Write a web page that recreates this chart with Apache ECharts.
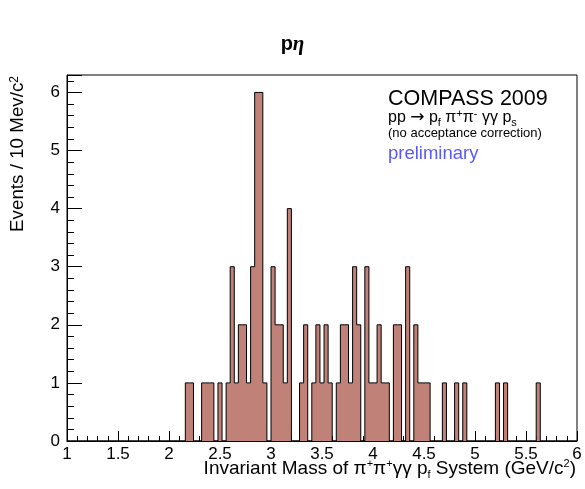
<!DOCTYPE html>
<html>
<head>
<meta charset="utf-8">
<script src="https://cdn.jsdelivr.net/npm/echarts@6/dist/echarts.min.js"></script>
<style>
  html, body { margin: 0; padding: 0; background: #fff; }
  #chart { width: 585px; height: 489px; }
</style>
</head>
<body>
<div id="chart"></div>
<script>
// histogram: 125 bins of 40 MeV from 1 to 6 GeV, only non-empty bins listed
const massMin = 1
const massMax = 6
const binWidth = 0.04
const massLow = [
  2.16, 2.20, 2.32, 2.36, 2.40, 2.48, 2.56, 2.60, 2.64, 2.68,
  2.72, 2.76, 2.80, 2.84, 2.88, 2.92, 3.00, 3.04, 3.08, 3.12,
  3.16, 3.28, 3.32, 3.40, 3.44, 3.48, 3.52, 3.56, 3.64, 3.68,
  3.72, 3.76, 3.80, 3.84, 3.92, 3.96, 4.00, 4.04, 4.08, 4.12,
  4.20, 4.24, 4.32, 4.40, 4.44, 4.48, 4.52, 4.68, 4.80, 4.88,
  5.20, 5.28, 5.60
]
const events = [
  1, 1, 1, 1, 1, 1, 1, 3, 1, 2,
  2, 1, 3, 6, 6, 1, 3, 2, 2, 1,
  4, 1, 2, 1, 2, 1, 2, 1, 1, 2,
  2, 1, 3, 2, 3, 1, 1, 2, 1, 1,
  2, 2, 3, 2, 1, 1, 1, 1, 1, 1,
  1, 1, 1
]

const nBins = Math.round((massMax - massMin) / binWidth)
const counts = new Array(nBins).fill(0)
massLow.forEach((m, i) => {
  counts[Math.round((m - massMin) / binWidth)] = events[i]
})
// step line through bin edges
const steps = counts.map((c, k) => [+(massMin + k * binWidth).toFixed(2), c])
steps.push([massMax, counts[nBins - 1]])

const font = 'Liberation Sans, Arial, sans-serif'
const sup = { fontSize: 11, verticalAlign: 'top', fontFamily: font, color: '#000' }
const sub = { fontSize: 11, verticalAlign: 'bottom', fontFamily: font, color: '#000' }
const arr = { fontSize: 17, fontFamily: 'DejaVu Sans, sans-serif', color: '#000' }

const chart = echarts.init(document.getElementById('chart'))
chart.setOption({
  animation: false,
  backgroundColor: '#fff',
  title: [
    {
      text: '{p|p}{eta|η}',
      left: 'center',
      top: 34,
      padding: 0,
      textStyle: {
        rich: {
          p: { fontFamily: font, fontWeight: 'bold', fontSize: 20, color: '#000' },
          eta: { fontFamily: 'Liberation Serif, serif', fontWeight: 'bold', fontStyle: 'italic', fontSize: 21, color: '#000' }
        }
      }
    },
    {
      text: 'COMPASS 2009',
      left: 388,
      top: 88,
      padding: 0,
      textStyle: { fontFamily: font, fontWeight: 'normal', fontSize: 21.5, color: '#000' }
    },
    {
      text: 'pp {arr|→} p{sub|f} π{sup|+}π{sup|-} γγ p{sub|s}',
      left: 388,
      top: 108,
      padding: 0,
      textStyle: { fontFamily: font, fontWeight: 'normal', fontSize: 16, lineHeight: 20, color: '#000', rich: { sup: sup, sub: sub, arr: arr } }
    },
    {
      text: '(no acceptance correction)',
      left: 388,
      top: 127,
      padding: 0,
      textStyle: { fontFamily: font, fontWeight: 'normal', fontSize: 13, color: '#000' }
    },
    {
      text: 'preliminary',
      left: 388,
      top: 144,
      padding: 0,
      textStyle: { fontFamily: font, fontWeight: 'normal', fontSize: 18.5, color: '#5a5af5' }
    },
    {
      text: 'Invariant Mass of π{sup|+}π{sup|+}γγ p{sub|f} System (GeV/c{sup|2})',
      right: 9,
      top: 458,
      padding: 0,
      textStyle: { fontFamily: font, fontWeight: 'normal', fontSize: 19, lineHeight: 22, color: '#000', rich: { sup: sup, sub: sub } }
    }
  ],
  graphic: [
    {
      type: 'text',
      x: 18,
      y: 76,
      rotation: Math.PI / 2,
      style: {
        text: 'Events / 10 Mev/c{sup|2}',
        align: 'right',
        verticalAlign: 'middle',
        fontFamily: font,
        fontSize: 18.8,
        fill: '#000',
        rich: { sup: { fontSize: 12, verticalAlign: 'top', fontFamily: font, fill: '#000' } }
      }
    }
  ],
  grid: {
    left: 67,
    right: 8,
    top: 75,
    bottom: 48,
    show: true,
    borderColor: '#000',
    borderWidth: 1,
    backgroundColor: 'transparent'
  },
  xAxis: {
    type: 'value',
    min: massMin,
    max: massMax,
    interval: 0.5,
    axisLine: { show: true, onZero: false, lineStyle: { color: '#000', width: 1 } },
    axisTick: { show: true, inside: true, length: 10, lineStyle: { color: '#000' } },
    minorTick: { show: true, splitNumber: 5, length: 5, lineStyle: { color: '#000' } },
    axisLabel: { color: '#000', fontFamily: font, fontSize: 17, margin: 5 },
    splitLine: { show: false }
  },
  yAxis: {
    type: 'value',
    min: 0,
    max: 6.3,
    interval: 1,
    axisLine: { show: true, lineStyle: { color: '#000', width: 1 } },
    axisTick: { show: true, inside: true, length: 15, lineStyle: { color: '#000' } },
    minorTick: { show: true, splitNumber: 5, length: 7, lineStyle: { color: '#000' } },
    axisLabel: { color: '#000', fontFamily: font, fontSize: 17, margin: 7, showMaxLabel: false },
    splitLine: { show: false }
  },
  series: [
    {
      type: 'line',
      step: 'end',
      data: steps,
      symbol: 'none',
      lineStyle: { color: '#000', width: 1 },
      areaStyle: { color: '#c08278', opacity: 1 }
    }
  ]
})
</script>
</body>
</html>
